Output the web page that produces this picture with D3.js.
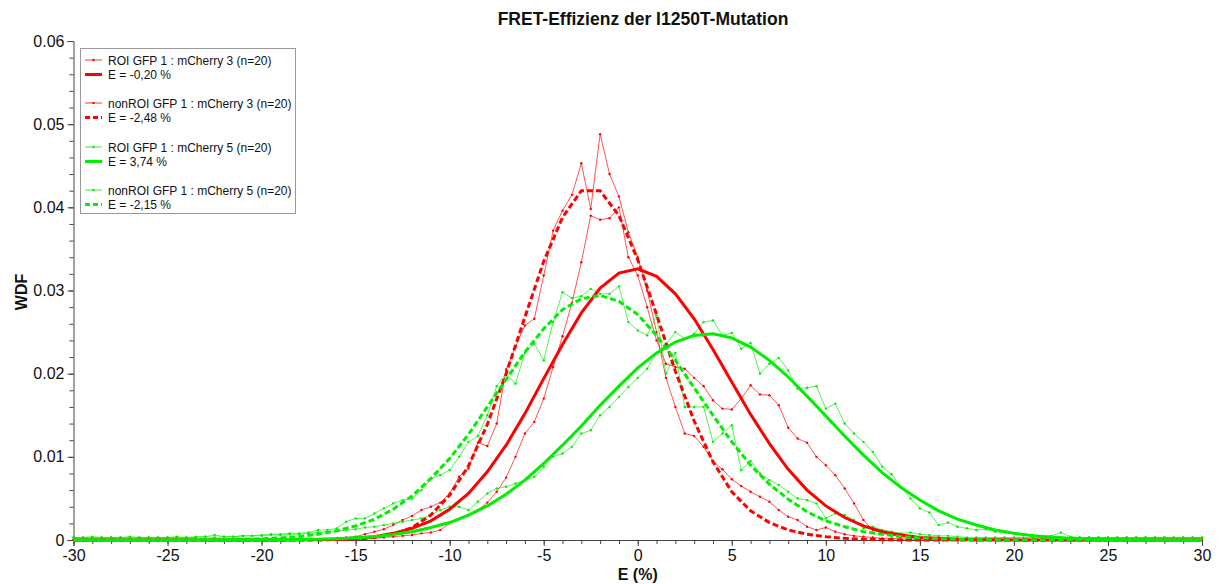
<!DOCTYPE html>
<html><head><meta charset="utf-8">
<script src="https://cdn.jsdelivr.net/npm/d3@7"></script>
<style>
body{margin:0;background:#fff;}
svg{display:block;}
text{font-family:"Liberation Sans",Arial,sans-serif;fill:#111;}
</style>
</head><body>
<svg id="chart" width="1220" height="584"></svg>
<script>
// ---------- DATA ----------
// histogram bins: E from -30 to 30 in steps of 0.5 (121 bins)
const binE = d3.range(0, 121).map(i => -30 + i * 0.5);
// fitted curves sampled at integer E from -30 to 30
const fitE = d3.range(-30, 31);

const seriesNames = [
  "ROI GFP 1 : mCherry 3 (n=20)",
  "nonROI GFP 1 : mCherry 3 (n=20)",
  "ROI GFP 1 : mCherry 5 (n=20)",
  "nonROI GFP 1 : mCherry 5 (n=20)"
];
const fitLabels = ["E = -0,20 %", "E = -2,48 %", "E = 3,74 %", "E = -2,15 %"];

const roiCh3 = [
  0,0,0,0,0,0,0,0,0,0,
  0,0,0,0,0,0,0,0,0,0,
  0,0,0,0,0,0,0,0,0,0.0001,
  0.0001,0.0001,0.0002,0.0003,0.0004,0.0005,0.0006,0.0008,0.0009,0.0012,
  0.0020,0.0025,0.0030,0.0036,0.0045,0.0058,0.0075,0.0100,0.0128,0.0142,
  0.0170,0.0208,0.0245,0.0285,0.0334,0.0390,0.0385,0.0387,0.0400,0.0340,
  0.0318,0.0280,0.0240,0.0212,0.0208,0.0206,0.0195,0.0185,0.0168,0.0158,
  0.0157,0.0170,0.0186,0.0175,0.0174,0.0162,0.0135,0.0122,0.0117,0.0100,
  0.0090,0.0078,0.0062,0.0044,0.0024,0.0012,0.0008,0.0006,0.0004,0.0003,
  0.0002,0.0001,0.0001,0.0001,0,0,0,0,0,0,
  0,0,0,0,0,0,0,0,0,0,
  0,0,0,0,0,0,0,0,0,0,
  0
];
const nonRoiCh3 = [
  0,0,0,0,0,0,0,0,0,0,
  0,0,0,0,0,0,0,0,0,0,
  0,0,0,0,0.0001,0.0001,0.0001,0.0001,0.0002,0.0003,
  0.0004,0.0007,0.0010,0.0013,0.0018,0.0024,0.0029,0.0036,0.0040,0.0045,
  0.0056,0.0076,0.0086,0.0117,0.0113,0.0140,0.0205,0.0232,0.0258,0.0266,
  0.0318,0.0372,0.0396,0.0415,0.0453,0.0398,0.0488,0.0440,0.0413,0.0370,
  0.0340,0.0300,0.0250,0.0195,0.0160,0.0128,0.0125,0.0112,0.0095,0.0085,
  0.0073,0.0065,0.0058,0.0052,0.0046,0.0036,0.0028,0.0024,0.0016,0.0012,
  0.0015,0.0010,0.0007,0.0005,0.0004,0.0003,0.0002,0.0002,0.0001,0.0001,
  0.0001,0.0001,0,0,0,0,0,0,0,0,
  0,0,0,0,0,0,0,0,0,0,
  0,0,0,0,0,0,0,0,0,0,
  0
];
const roiCh5 = [
  0.0003,0.0003,0.0003,0.0003,0.0003,0.0003,0.0003,0.0003,0.0003,0.0003,
  0.0003,0.0003,0.0003,0.0003,0.0004,0.0003,0.0004,0.0004,0.0005,0.0005,
  0.0005,0.0006,0.0006,0.0007,0.0007,0.0008,0.0009,0.0010,0.0011,0.0012,
  0.0013,0.0015,0.0016,0.0018,0.0020,0.0022,0.0024,0.0026,0.0030,0.0036,
  0.0040,0.0040,0.0036,0.0046,0.0056,0.0062,0.0064,0.0068,0.0072,0.0076,
  0.0088,0.0100,0.0104,0.0112,0.0128,0.0132,0.0150,0.0160,0.0172,0.0184,
  0.0195,0.0206,0.0225,0.0235,0.0250,0.0242,0.0248,0.0262,0.0264,0.0246,
  0.0249,0.0230,0.0237,0.0200,0.0212,0.0219,0.0204,0.0182,0.0183,0.0185,
  0.0158,0.0164,0.0140,0.0128,0.0118,0.0106,0.0088,0.0079,0.0064,0.0050,
  0.0038,0.0033,0.0018,0.0021,0.0016,0.0014,0.0012,0.0013,0.0010,0.0009,
  0.0008,0.0007,0.0006,0.0005,0.0005,0.0009,0.0004,0.0003,0.0003,0.0003,
  0.0003,0.0003,0.0003,0.0003,0.0003,0.0003,0.0003,0.0003,0.0003,0.0003,
  0.0003
];
const nonRoiCh5 = [
  0.0003,0.0003,0.0004,0.0003,0.0003,0.0003,0.0004,0.0003,0.0003,0.0003,
  0.0003,0.0004,0.0003,0.0004,0.0004,0.0006,0.0004,0.0004,0.0005,0.0005,
  0.0006,0.0007,0.0007,0.0008,0.0008,0.0009,0.0012,0.0012,0.0014,0.0022,
  0.0026,0.0026,0.0032,0.0038,0.0044,0.0048,0.0050,0.0060,0.0074,0.0078,
  0.0084,0.0100,0.0118,0.0125,0.0150,0.0185,0.0200,0.0188,0.0225,0.0236,
  0.0216,0.0262,0.0298,0.0291,0.0293,0.0302,0.0296,0.0296,0.0305,0.0262,
  0.0252,0.0246,0.0270,0.0200,0.0225,0.0160,0.0160,0.0160,0.0118,0.0128,
  0.0138,0.0084,0.0095,0.0080,0.0072,0.0066,0.0058,0.0050,0.0048,0.0044,
  0.0026,0.0032,0.0030,0.0024,0.0014,0.0016,0.0012,0.0010,0.0008,0.0009,
  0.0007,0.0006,0.0005,0.0005,0.0004,0.0003,0.0003,0.0003,0.0003,0.0003,
  0.0003,0.0003,0.0003,0.0003,0.0003,0.0003,0.0003,0.0003,0.0003,0.0003,
  0.0003,0.0003,0.0003,0.0003,0.0003,0.0003,0.0003,0.0003,0.0003,0.0003,
  0.0003
];

const fitRoiCh3 = [
  0,0,0,0,0,0,0,0,0,0,
  0,0,0.00002,0.00005,0.0001,0.0002,0.0004,0.0008,0.0014,0.0023,
  0.0037,0.0056,0.0082,0.0114,0.0152,0.0194,0.0235,0.0273,0.0303,0.0321,
  0.0326,0.0317,0.0296,0.0266,0.0229,0.0190,0.0151,0.0116,0.0085,0.0060,
  0.0041,0.0027,0.0017,0.0010,0.0006,0.0003,0.0002,0.0001,0.00004,0.00002,
  0,0,0,0,0,0,0,0,0,0,
  0
];
const fitNonRoiCh3 = [
  0,0,0,0,0,0,0,0,0,0,
  0,0,0,0,0.00005,0.00013,0.0003,0.0007,0.0015,0.0030,
  0.0054,0.0089,0.0139,0.0200,0.0268,0.0335,0.0388,0.0420,0.0420,0.0390,
  0.0337,0.0271,0.0203,0.0143,0.0094,0.0058,0.0035,0.0021,0.0012,0.0007,
  0.0004,0.0002,0.0001,0.00005,0,0,0,0,0,0,
  0,0,0,0,0,0,0,0,0,0,
  0
];
const fitRoiCh5 = [
  0,0,0,0,0,0,0,0,0.00001,0.00001,
  0.00002,0.00004,0.00006,0.0001,0.00016,0.00026,0.0004,0.00065,0.0010,0.0015,
  0.0021,0.0030,0.0041,0.0055,0.0072,0.0092,0.0114,0.0137,0.0162,0.0185,
  0.0207,0.0225,0.0238,0.0246,0.0248,0.0243,0.0232,0.0216,0.0196,0.0173,
  0.0149,0.0125,0.0102,0.0081,0.0063,0.0048,0.0035,0.0025,0.0018,0.0012,
  0.0008,0.00052,0.00032,0.0002,0.00012,0.00007,0.00004,0.00002,0.00001,0.00001,
  0
];
const fitNonRoiCh5 = [
  0,0,0,0,0,0,0,0.00002,0.00005,0.0001,
  0.00015,0.00025,0.0004,0.0007,0.0011,0.0017,0.0025,0.0037,0.0053,0.0074,
  0.0098,0.0127,0.0160,0.0193,0.0226,0.0254,0.0277,0.0290,0.0294,0.0287,
  0.0271,0.0246,0.0216,0.0183,0.0150,0.0118,0.0090,0.0067,0.0049,0.0034,
  0.0023,0.0016,0.0010,0.0007,0.0004,0.00025,0.00015,0.0001,0.00005,0.00002,
  0,0,0,0,0,0,0,0,0,0,
  0
];

const xTickValues = [-30,-25,-20,-15,-10,-5,0,5,10,15,20,25,30];
const xTickLabels = ["-30","-25","-20","-15","-10","-5","0","5","10","15","20","25","30"];
const yTickValues = [0,0.01,0.02,0.03,0.04,0.05,0.06];
const yTickLabels = ["0","0.01","0.02","0.03","0.04","0.05","0.06"];

const titleText = "FRET-Effizienz der I1250T-Mutation";
const xLabelText = "E (%)";
const yLabelText = "WDF";

// ---------- DRAW ----------
const RED = "#ff0000", GREEN = "#00ee00";
const series = [
  {name: seriesNames[0], fitLabel: fitLabels[0], data: roiCh3, fit: fitRoiCh3, color: RED, dashed: false},
  {name: seriesNames[1], fitLabel: fitLabels[1], data: nonRoiCh3, fit: fitNonRoiCh3, color: RED, dashed: true},
  {name: seriesNames[2], fitLabel: fitLabels[2], data: roiCh5, fit: fitRoiCh5, color: GREEN, dashed: false},
  {name: seriesNames[3], fitLabel: fitLabels[3], data: nonRoiCh5, fit: fitNonRoiCh5, color: GREEN, dashed: true}
];

const svg = d3.select("#chart");
const plotLeft = 73.5, plotRight = 1202, plotTop = 41, plotBottom = 540;
const x = d3.scaleLinear().domain([-30, 30]).range([plotLeft, plotRight]);
const y = d3.scaleLinear().domain([0, 0.06]).range([plotBottom, plotTop]);

// title
svg.append("text").attr("x", 643).attr("y", 25).attr("text-anchor", "middle")
  .style("font-size", "17.5px").style("font-weight", "bold").text(titleText);

// axes
const axisColor = "#444";
const gx = svg.append("g").attr("transform", `translate(0,${plotBottom})`);
gx.call(d3.axisBottom(x).tickValues(d3.range(-30, 31, 1)).tickSize(4).tickFormat(""));
gx.selectAll(".domain").remove();
gx.selectAll(".tick line").attr("stroke", axisColor);
const gx2 = svg.append("g").attr("transform", `translate(0,${plotBottom})`);
gx2.call(d3.axisBottom(x).tickValues(xTickValues).tickSize(6).tickPadding(4)
  .tickFormat((d, i) => xTickLabels[i]));
gx2.selectAll(".domain").attr("stroke", axisColor);
gx2.selectAll(".tick line").attr("stroke", axisColor);
gx2.selectAll(".tick text").style("font-size", "16px").attr("fill", "#111")
  .style("font-family", "'Liberation Sans', Arial, sans-serif");

const gy = svg.append("g").attr("transform", `translate(${plotLeft},0)`);
gy.call(d3.axisLeft(y).tickValues(d3.range(0, 31).map(i => i * 0.002)).tickSize(4).tickFormat(""));
gy.selectAll(".domain").remove();
gy.selectAll(".tick line").attr("stroke", axisColor);
const gy2 = svg.append("g").attr("transform", `translate(${plotLeft},0)`);
gy2.call(d3.axisLeft(y).tickValues(yTickValues).tickSize(6).tickPadding(3)
  .tickFormat((d, i) => yTickLabels[i]));
gy2.selectAll(".domain").attr("stroke", axisColor);
gy2.selectAll(".tick line").attr("stroke", axisColor);
gy2.selectAll(".tick text").style("font-size", "16px").attr("fill", "#111")
  .style("font-family", "'Liberation Sans', Arial, sans-serif");

// axis labels
svg.append("text").attr("x", (plotLeft + plotRight) / 2).attr("y", 580).attr("text-anchor", "middle")
  .style("font-size", "16px").style("font-weight", "bold").text(xLabelText);
svg.append("text").attr("transform", "translate(27,292) rotate(-90)").attr("text-anchor", "middle")
  .style("font-size", "16px").style("font-weight", "bold").text(yLabelText);

// lines
const dataLine = d3.line().x((d, i) => x(binE[i])).y(d => y(d));
const fitLine = d3.line().x((d, i) => x(fitE[i])).y(d => y(d));
const plot = svg.append("g");
series.forEach(s => {
  plot.append("path").datum(s.data).attr("d", dataLine)
    .attr("fill", "none").attr("stroke", s.color).attr("stroke-width", 0.8).attr("stroke-opacity", 0.85);
  plot.append("g").selectAll("circle").data(s.data).join("circle")
    .attr("cx", (d, i) => x(binE[i])).attr("cy", d => y(d)).attr("r", 1.2)
    .attr("fill", s.color);
});
series.forEach(s => {
  plot.append("path").datum(s.fit).attr("d", fitLine)
    .attr("fill", "none").attr("stroke", s.color).attr("stroke-width", 3)
    .attr("stroke-dasharray", s.dashed ? "6,3" : null);
});

// legend
const lg = svg.append("g");
const box = lg.append("rect").attr("x", 80.5).attr("y", 48.5).attr("height", 165)
  .attr("fill", "#fff").attr("stroke", "#999").attr("stroke-width", 1);
const rowTop = [60, 103, 147, 190];
let maxW = 0;
series.forEach((s, k) => {
  const y0 = rowTop[k];
  lg.append("line").attr("x1", 85).attr("x2", 102).attr("y1", y0).attr("y2", y0)
    .attr("stroke", s.color).attr("stroke-width", 0.8);
  lg.append("circle").attr("cx", 93.5).attr("cy", y0).attr("r", 1.2).attr("fill", s.color);
  const t1 = lg.append("text").attr("x", 108).attr("y", y0 + 4.5).style("font-size", "12px").text(s.name);
  maxW = Math.max(maxW, t1.node().getComputedTextLength());
  lg.append("line").attr("x1", 85).attr("x2", 102).attr("y1", y0 + 14.5).attr("y2", y0 + 14.5)
    .attr("stroke", s.color).attr("stroke-width", 3).attr("stroke-dasharray", s.dashed ? "5,3" : null);
  lg.append("text").attr("x", 108).attr("y", y0 + 19).style("font-size", "12px").text(s.fitLabel);
});
box.attr("width", 108 + maxW + 4 - 80.5);
</script>
</body></html>
